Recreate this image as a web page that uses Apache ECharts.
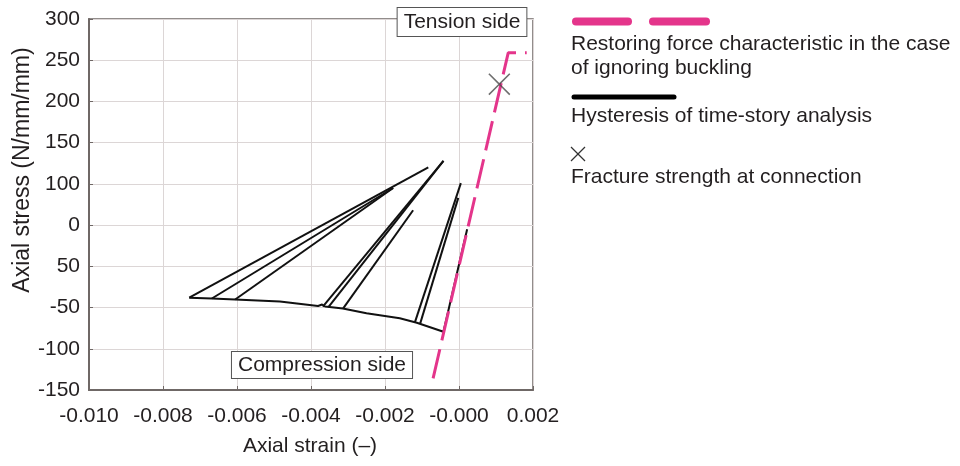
<!DOCTYPE html>
<html>
<head>
<meta charset="utf-8">
<script src="https://cdn.jsdelivr.net/npm/echarts@6/dist/echarts.min.js"></script>
<style>
  html, body { margin: 0; padding: 0; background: #fff; }
  #chart { width: 960px; height: 466px; }
</style>
</head>
<body>
<div id="chart"></div>
<script>
const FONT_FAMILY = '"Liberation Sans", Arial, Helvetica, sans-serif';
const FONT_SIZE = 21;
const TEXT_COLOR = '#231f20';
const PINK = '#e4358b';
const FRAME = '#6f6866';

// axis tick labels (top to bottom for stress, left to right for strain)
const strainTickLabels = ['-0.010', '-0.008', '-0.006', '-0.004', '-0.002', '-0.000', '0.002'];
const stressTickLabels = ['300', '250', '200', '150', '100', '0', '50', '-50', '-100', '-150'];

// restoring force characteristic when buckling is ignored (bilinear)
const elasticStrain = [-0.00070, 0.00133, 0.00183];
const elasticStress = [-136, 259, 259];

// compression envelope of the time-history hysteresis
const envelopeStrain = [-0.00729, -0.00668, -0.00605, -0.00484, -0.00381, -0.00370, -0.00362, -0.00314, -0.00250, -0.00160, -0.00114, -0.00042];
const envelopeStress = [-38.0, -39.0, -40.2, -42.7, -48.1, -46.3, -48.7, -51.1, -57.0, -63.0, -68.4, -79.3];

// reloading branches: each runs from a point on the envelope up to its peak
const branchStartStrain = [-0.00729, -0.00668, -0.00605, -0.00368, -0.00353, -0.00313, -0.00119, -0.00105, -0.00042];
const branchStartStress = [-38.0, -39.0, -40.2, -49.0, -49.5, -51.0, -67.6, -69.5, -79.3];
const branchEndStrain   = [-0.00083, -0.00178, -0.00178, -0.00042, -0.00042, -0.00124, 0.00005, -0.00002, 0.00022];
const branchEndStress   = [120, 95, 95, 128, 128, 68, 101, 83, 45];

// fracture strength at the connection
const fractureStrain = [0.00109];
const fractureStress = [221];

const X_MIN = -0.010, X_MAX = 0.002, X_STEP = 0.002;
const Y_MIN = -150, Y_MAX = 300, Y_STEP = 50;

const zip = (xs, ys) => xs.map((x, i) => [x, ys[i]]);

const blackLine = { color: '#111', width: 2 };

const series = [];
series.push({
  name: 'Hysteresis', type: 'line', data: zip(envelopeStrain, envelopeStress),
  symbol: 'none', lineStyle: blackLine, silent: true, z: 3
});
branchStartStrain.forEach((s, i) => {
  series.push({
    name: 'Hysteresis', type: 'line',
    data: [[s, branchStartStress[i]], [branchEndStrain[i], branchEndStress[i]]],
    symbol: 'none', lineStyle: blackLine, silent: true, z: 3
  });
});
series.push({
  name: 'Restoring force', type: 'line', data: zip(elasticStrain, elasticStress),
  symbol: 'none', silent: true, z: 4,
  lineStyle: { color: PINK, width: 3, type: [30, 9] }
});
series.push({
  name: 'Fracture strength', type: 'scatter', data: zip(fractureStrain, fractureStress),
  symbol: 'path://M1,0 L10,9 L19,0 L20,1 L11,10 L20,19 L19,20 L10,11 L1,20 L0,19 L9,10 L0,1 Z',
  symbolSize: 22, itemStyle: { color: '#4a4a4a' }, silent: true, z: 5
});

const labelFont = { color: TEXT_COLOR, fontSize: FONT_SIZE, fontFamily: FONT_FAMILY };
const font = FONT_SIZE + 'px ' + FONT_FAMILY;

function legendText(text, x, y) {
  return {
    type: 'text', x: x, y: y, z: 100,
    style: { text: text, font: font, fill: TEXT_COLOR, textAlign: 'left', textVerticalAlign: 'middle' }
  };
}

const graphic = [
  // axis titles
  {
    type: 'text', x: 23, y: 170, rotation: Math.PI / 2, z: 100,
    style: { text: 'Axial stress (N/mm/mm)', font: '23px ' + FONT_FAMILY, fill: TEXT_COLOR, textAlign: 'center', textVerticalAlign: 'middle' }
  },
  {
    type: 'text', x: 310, y: 446, z: 100,
    style: { text: 'Axial strain (\u2013)', font: font, fill: TEXT_COLOR, textAlign: 'center', textVerticalAlign: 'middle' }
  },
  // boxed annotations
  {
    type: 'text', x: 462, y: 22, z: 100,
    style: {
      text: 'Tension side', font: font, fill: TEXT_COLOR, lineHeight: 20,
      textAlign: 'center', textVerticalAlign: 'middle',
      backgroundColor: '#fff', borderColor: '#555', borderWidth: 1, padding: [4, 6, 4, 6]
    }
  },
  {
    type: 'text', x: 322, y: 365, z: 100,
    style: {
      text: 'Compression side', font: font, fill: TEXT_COLOR, lineHeight: 20,
      textAlign: 'center', textVerticalAlign: 'middle',
      backgroundColor: '#fff', borderColor: '#555', borderWidth: 1, padding: [3, 6, 3, 6]
    }
  },
  // legend: pink dashed sample
  { type: 'line', z: 100, shape: { x1: 576, y1: 21.5, x2: 628, y2: 21.5 }, style: { stroke: PINK, lineWidth: 8, lineCap: 'round' } },
  { type: 'line', z: 100, shape: { x1: 653, y1: 21.5, x2: 706, y2: 21.5 }, style: { stroke: PINK, lineWidth: 8, lineCap: 'round' } },
  legendText('Restoring force characteristic in the case', 571, 44),
  legendText('of ignoring buckling', 571, 68),
  // legend: black line sample
  { type: 'line', z: 100, shape: { x1: 574, y1: 97, x2: 674, y2: 97 }, style: { stroke: '#000', lineWidth: 5, lineCap: 'round' } },
  legendText('Hysteresis of time-story analysis', 571, 116),
  // legend: cross sample
  { type: 'line', z: 100, shape: { x1: 571, y1: 147, x2: 585, y2: 161 }, style: { stroke: '#333', lineWidth: 1.3 } },
  { type: 'line', z: 100, shape: { x1: 585, y1: 147, x2: 571, y2: 161 }, style: { stroke: '#333', lineWidth: 1.3 } },
  legendText('Fracture strength at connection', 571, 177)
];

const chart = echarts.init(document.getElementById('chart'), null, { renderer: 'canvas' });
chart.setOption({
  animation: false,
  backgroundColor: '#fff',
  grid: {
    left: 89, right: 427, top: 19, bottom: 76,
    show: true, borderColor: FRAME, borderWidth: 1.5, backgroundColor: 'transparent'
  },
  xAxis: {
    type: 'value', min: X_MIN, max: X_MAX, interval: X_STEP,
    axisLine: { show: true, onZero: false, lineStyle: { color: FRAME, width: 2 } },
    axisTick: { show: true, inside: true, length: 4, lineStyle: { color: FRAME } },
    splitLine: { show: true, lineStyle: { color: '#dcd6d6', width: 1 } },
    axisLabel: Object.assign({
      margin: 16,
      formatter: v => strainTickLabels[Math.round((v - X_MIN) / X_STEP)]
    }, labelFont)
  },
  yAxis: {
    type: 'value', min: Y_MIN, max: Y_MAX, interval: Y_STEP,
    axisLine: { show: true, onZero: false, lineStyle: { color: FRAME, width: 2 } },
    axisTick: { show: true, inside: true, length: 4, lineStyle: { color: FRAME } },
    splitLine: { show: true, lineStyle: { color: '#dcd6d6', width: 1 } },
    axisLabel: Object.assign({
      margin: 9,
      formatter: v => stressTickLabels[Math.round((Y_MAX - v) / Y_STEP)]
    }, labelFont)
  },
  series: series,
  graphic: graphic
});
</script>
</body>
</html>
